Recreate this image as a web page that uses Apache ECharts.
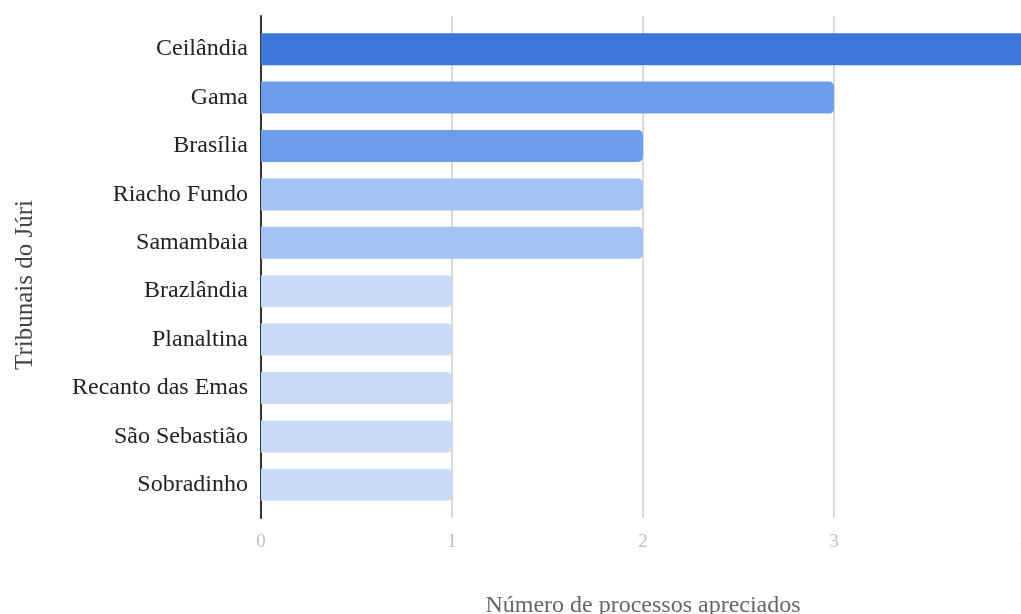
<!DOCTYPE html>
<html><head><meta charset="utf-8">
<script src="https://cdn.jsdelivr.net/npm/echarts@6/dist/echarts.min.js"></script>
<style>html,body{margin:0;padding:0;background:#fff}#c{width:1021px;height:614px}</style>
</head><body><div id="c"></div>
<script>
const categories = ['Ceilândia','Gama','Brasília','Riacho Fundo','Samambaia','Brazlândia','Planaltina','Recanto das Emas','São Sebastião','Sobradinho'];
const values = [4,3,2,2,2,1,1,1,1,1];
const barColors = ['#3c78d8','#6d9eeb','#6d9eeb','#a4c2f4','#a4c2f4','#c9daf8','#c9daf8','#c9daf8','#c9daf8','#c9daf8'];
const xTicks = [0,1,2,3,4];
const xTitle = 'Número de processos apreciados';
const yTitle = 'Tribunais do Júri';

const serif = '"Liberation Serif", "DejaVu Serif", serif';
const chart = echarts.init(document.getElementById('c'));
chart.setOption({
  animation: false,
  grid: [
    {left: 261, right: -4, top: 16, bottom: 96, containLabel: false, outerBoundsMode: 'none'},
    {left: 261, right: -4, top: 25, bottom: 105, containLabel: false, outerBoundsMode: 'none'}
  ],
  xAxis: [
    {gridIndex: 0, type: 'value', min: xTicks[0], max: xTicks[xTicks.length-1], interval: 1,
     axisLine: {show: false}, axisTick: {show: false},
     splitLine: {show: true, lineStyle: {color: '#cccccc', width: 1.5}},
     axisLabel: {color: '#c0c0c0', fontFamily: serif, fontSize: 19, margin: 15,
       showMinLabel: true, showMaxLabel: true, hideOverlap: false,
       formatter: v => xTicks.includes(v) ? String(v) : ''},
     name: xTitle, nameLocation: 'middle', nameGap: 76,
     nameTextStyle: {color: '#666666', fontFamily: serif, fontSize: 24}},
    {gridIndex: 1, type: 'value', min: 0, max: 4, show: false}
  ],
  yAxis: [
    {gridIndex: 0, type: 'category', data: categories, inverse: true,
     axisLine: {show: true, onZero: false, lineStyle: {color: '#333333', width: 2}},
     axisTick: {show: false}, axisLabel: {show: false}, splitLine: {show: false}},
    {gridIndex: 1, type: 'category', data: categories, inverse: true,
     axisLine: {show: false}, axisTick: {show: false}, splitLine: {show: false},
     axisLabel: {color: '#222222', fontFamily: serif, fontSize: 24, margin: 13}}
  ],
  graphic: [{
    type: 'text', x: 25, y: 285, rotation: Math.PI / 2,
    style: {text: yTitle, fill: '#444444', font: '25px ' + serif, align: 'center', verticalAlign: 'middle'}
  }],
  series: [{
    type: 'bar', xAxisIndex: 1, yAxisIndex: 1,
    data: values.map((v, i) => ({value: v, itemStyle: {color: barColors[i]}})),
    barWidth: 32,
    itemStyle: {borderRadius: [0, 5, 5, 0]}
  }]
});
</script></body></html>
